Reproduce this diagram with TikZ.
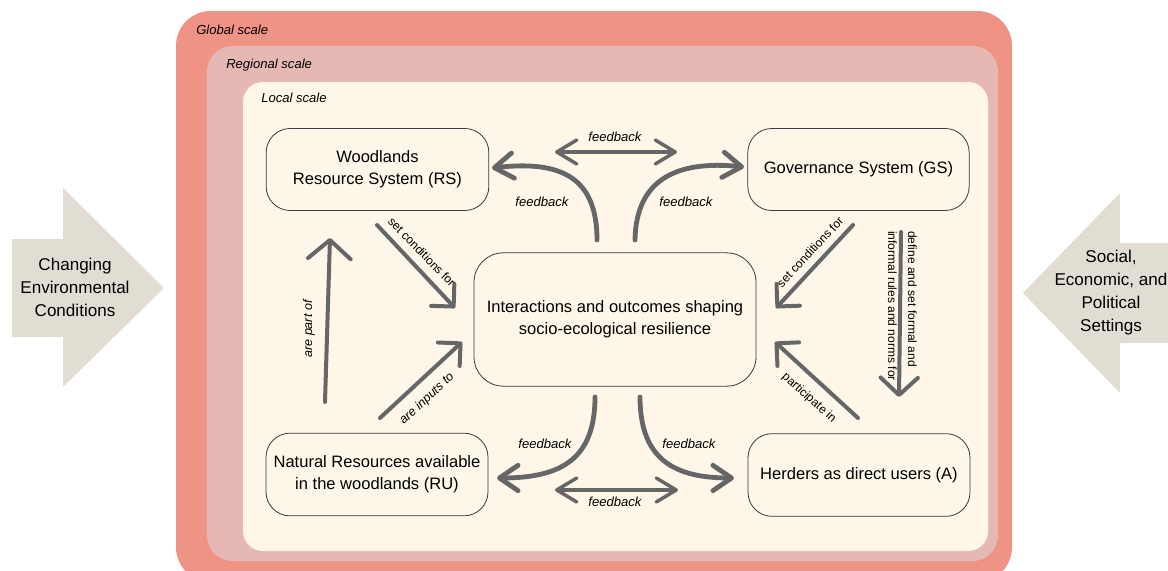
\documentclass[tikz,border=0pt]{standalone}
\usepackage{fontspec}
\setmainfont{Liberation Sans}
\usetikzlibrary{arrows.meta,calc}
\definecolor{globalc}{HTML}{EF9484}
\definecolor{regc}{HTML}{E6B8B4}
\definecolor{localc}{HTML}{FEF7E9}
\definecolor{sidec}{HTML}{E2DDD2}
\definecolor{arrc}{HTML}{666666}
\definecolor{edgec}{HTML}{3A3A3A}
\begin{document}
\begin{tikzpicture}[x=0.75pt,y=-0.75pt,
  box/.style={draw=edgec, line width=0.6pt, fill=localc, rounded corners=18pt, align=center,
    inner sep=0pt, font=\fontsize{12.4}{16.5}\selectfont},
  scalelbl/.style={anchor=west, inner sep=0pt, font=\fontsize{9.8}{12}\selectfont\itshape},
  fblbl/.style={inner sep=0pt, font=\fontsize{9.8}{12}\selectfont\itshape},
  lbl/.style={inner sep=0pt, font=\fontsize{9}{15}\selectfont},
  ilbl/.style={inner sep=0pt, font=\fontsize{9.4}{12}\selectfont\itshape},
  sidetxt/.style={align=center, inner sep=0pt, font=\fontsize{12.8}{17.2}\selectfont},
  curvearr/.style={draw=arrc, line width=3.6pt, line cap=round,
    -{Straight Barb[length=14pt,width=19pt,round]}},
  dblarr/.style={draw=arrc, line width=2.6pt, line cap=round,
    {Straight Barb[length=15pt,width=18pt,round]}-{Straight Barb[length=15pt,width=18pt,round]}},
  strarr/.style={draw=arrc, line width=3pt, line cap=round,
    -{Straight Barb[length=12pt,width=24pt,round]}}
]
\useasboundingbox (0,0) rectangle (1168,571);
% scale boxes
\begin{scope}
\clip (0,0) rectangle (1168,571);
\fill[globalc, rounded corners=26pt] (176,11) rectangle (1012,582);
\end{scope}
\fill[regc, rounded corners=19pt] (207,46) rectangle (998,561);
\fill[localc, rounded corners=15pt] (243,82) rectangle (988,551);
\node[scalelbl] (gl) at (196,30) {Global scale};
\node[scalelbl] (rl) at (226,65) {Regional scale};
\node[scalelbl] (ll) at (261,98) {Local scale};

% side arrows
\fill[sidec] (12,239) -- (63,239) -- (63,188) -- (164,288) -- (63,387) -- (63,337) -- (12,337) -- cycle;
\fill[sidec] (1168,243) -- (1120,243) -- (1120,193) -- (1023,293) -- (1120,393) -- (1120,343) -- (1168,343) -- cycle;
\node[sidetxt] (env) at (75,287) {Changing\\Environmental\\Conditions};
\node[sidetxt] (soc) at (1111,292.5) {Social,\\Economic, and\\Political\\Settings};

% main nodes
\node[box, minimum width=167pt, minimum height=61.5pt] (RS) at (377.5,169.5) {Woodlands\\Resource System (RS)};
\node[box, minimum width=166pt, minimum height=61.5pt] (GS) at (858.5,169.5) {Governance System (GS)};
\node[box, minimum width=211.5pt, minimum height=100pt, rounded corners=22pt] (C) at (615,319.5) {Interactions and outcomes shaping\\socio-ecological resilience};
\node[box, minimum width=166.5pt, minimum height=62pt] (RU) at (377,474.5) {Natural Resources available\\in the woodlands (RU)};
\node[box, minimum width=166.5pt, minimum height=62pt] (A) at (859,475) {Herders as direct users (A)};

% connector end points
\coordinate (tls) at (597,240);  \coordinate (tle) at (492,168);
\coordinate (trs) at (635,240);  \coordinate (tre) at (744,167);
\coordinate (bls) at (595,397);  \coordinate (ble) at (497,478);
\coordinate (brs) at (640,397);  \coordinate (bre) at (734,478);
\coordinate (tds) at (555,152);  \coordinate (tde) at (677,152);
\coordinate (bds) at (555,490);  \coordinate (bde) at (678,490);
\coordinate (rscs) at (377,225); \coordinate (rsce) at (455,308);
\coordinate (gscs) at (853,225); \coordinate (gsce) at (776,308);
\coordinate (ruis) at (380,418); \coordinate (ruie) at (462,342);
\coordinate (rups) at (325,402); \coordinate (rupe) at (330,238);
\coordinate (gsas) at (901,232); \coordinate (gsae) at (899,397);
\coordinate (aps)  at (858,418); \coordinate (ape)  at (775,342);

% feedback arrows
\draw[curvearr] (tls) .. controls (597,178) and (562,160) .. (tle);
\draw[curvearr] (trs) .. controls (636,180) and (676,160) .. (tre);
\draw[curvearr] (bls) .. controls (595,460) and (560,478) .. (ble);
\draw[curvearr] (brs) .. controls (640,460) and (675,478) .. (bre);
\draw[dblarr] (tds) -- (tde);
\draw[dblarr] (bds) -- (bde);
\node[fblbl] (fb1) at (615,137) {feedback};
\node[fblbl] (fb2) at (542,202) {feedback};
\node[fblbl] (fb3) at (686,202) {feedback};
\node[fblbl] (fb4) at (545,444) {feedback};
\node[fblbl] (fb5) at (689,444) {feedback};
\node[fblbl] (fb6) at (615,502) {feedback};

% straight arrows
\draw[strarr] (rscs) -- (rsce);
\draw[strarr] (gscs) -- (gsce);
\draw[strarr] (ruis) -- (ruie);
\draw[strarr, -{Straight Barb[length=14pt,width=32pt,round]}] (rups) -- (rupe);
\draw[strarr, -{Straight Barb[length=13pt,width=28pt,round]}] (gsas) -- (gsae);
\draw[strarr] (aps) -- (ape);

\node[lbl, rotate=-46] (l1) at (422,252) {set conditions for};
\node[lbl, rotate=47] (l2) at (810,252) {set conditions for};
\node[ilbl, rotate=43] (l3) at (427,399) {are inputs to};
\node[ilbl, rotate=90] (l4) at (309,329) {are part of};
\node[lbl, rotate=-42] (l5) at (809,398) {participate in};
\node[lbl, rotate=-90, align=left] (l6) at (902.5,306) {define and set formal and\\informal rules and norms for};
\end{tikzpicture}
\end{document}
